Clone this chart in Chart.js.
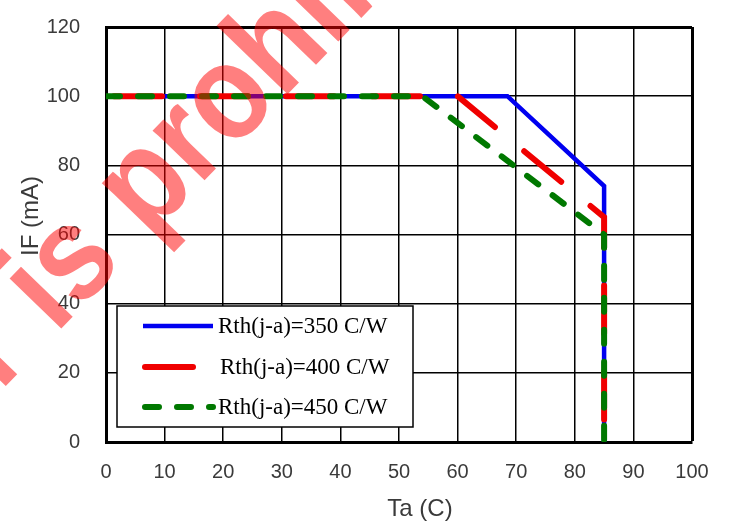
<!DOCTYPE html>
<html>
<head>
<meta charset="utf-8">
<script src="https://cdn.jsdelivr.net/npm/chart.js@4.4.1/dist/chart.umd.min.js"></script>
<style>
  body { margin: 0; background: #fff; }
  #wrap { width: 730px; height: 526px; }
</style>
</head>
<body>
<div id="wrap"><canvas id="deratingChart" width="730" height="526"></canvas></div>
<script>
// Derating curves, IF vs ambient temperature
const seriesLabels = ['Rth(j-a)=350 C/W', 'Rth(j-a)=400 C/W', 'Rth(j-a)=450 C/W'];
const blueTa = [0, 68.5, 85, 85];
const blueIF = [100, 100, 74, 0];
const redTa = [0, 60, 85, 85];
const redIF = [100, 100, 65, 0];
const greenTa = [0, 54, 85, 85];
const greenIF = [100, 100, 60, 0];

const xTitle = 'Ta (C)';
const yTitle = 'IF (mA)';
const watermark = 'r is prohibited';

const tickFont = { family: '"Liberation Sans", Arial, sans-serif', size: 20 };
const tickColor = '#3a3a3a';

function toPoints(xs, ys) {
    return xs.map((x, i) => ({ x: x, y: ys[i] }));
}

// legend box drawn inside the plot, bottom left
const boxLegend = {
    id: 'boxLegend',
    afterDatasetsDraw(chart) {
        const ctx = chart.ctx;
        ctx.save();
        ctx.fillStyle = '#fff';
        ctx.fillRect(117, 306, 296, 121);
        ctx.strokeStyle = '#000';
        ctx.lineWidth = 1.5;
        ctx.strokeRect(117, 306, 296, 121);
        const rows = [326, 367, 407];
        chart.data.datasets.forEach((ds, i) => {
            ctx.beginPath();
            ctx.strokeStyle = ds.borderColor;
            ctx.lineWidth = ds.borderWidth;
            ctx.lineCap = i === 0 ? 'butt' : 'round';
            ctx.setLineDash(ds.borderDash || []);
            ctx.lineDashOffset = 0;
            ctx.moveTo(i === 0 ? 143 : 145, rows[i]);
            ctx.lineTo(i === 1 ? 199 : 213, rows[i]);
            ctx.stroke();
            ctx.setLineDash([]);
            ctx.fillStyle = '#000';
            ctx.font = '23px "Liberation Serif", "Times New Roman", serif';
            ctx.textBaseline = 'middle';
            ctx.textAlign = 'left';
            ctx.fillText(ds.label, i === 1 ? 220 : 218, rows[i] + 1);
        });
        ctx.restore();
    },
    afterDraw(chart) {
        const ctx = chart.ctx;
        ctx.save();
        // axis titles
        ctx.fillStyle = tickColor;
        ctx.font = '24px "Liberation Sans", Arial, sans-serif';
        ctx.textAlign = 'center';
        ctx.textBaseline = 'middle';
        ctx.fillText(xTitle, 420, 509);
        ctx.translate(31, 216);
        ctx.rotate(-Math.PI / 2);
        ctx.fillText(yTitle, 0, 0);
        ctx.restore();

        // red watermark across the top left
        ctx.save();
        ctx.translate(0, 392);
        ctx.rotate(-46 * Math.PI / 180);
        ctx.scale(0.88, 1);
        ctx.font = 'bold 136px "Liberation Sans", Arial, sans-serif';
        ctx.fillStyle = 'rgba(255, 0, 0, 0.5)';
        ctx.textAlign = 'left';
        ctx.textBaseline = 'alphabetic';
        ctx.fillText(watermark, 0, 0);
        ctx.restore();
    }
};

const ctx = document.getElementById('deratingChart').getContext('2d');
const deratingChart = new Chart(ctx, {
    type: 'line',
    data: {
        datasets: [
            {
                label: seriesLabels[0],
                data: toPoints(blueTa, blueIF),
                borderColor: '#0000f0',
                borderWidth: 4.5,
                pointRadius: 0,
                tension: 0,
                fill: false,
                order: 3
            },
            {
                label: seriesLabels[1],
                data: toPoints(redTa, redIF),
                borderColor: '#f00000',
                borderWidth: 6,
                borderDash: [48, 38],
                borderDashOffset: 78,
                borderCapStyle: 'round',
                pointRadius: 0,
                tension: 0,
                fill: false,
                order: 2
            },
            {
                label: seriesLabels[2],
                data: toPoints(greenTa, greenIF),
                borderColor: '#007800',
                borderWidth: 6,
                borderDash: [14, 18],
                borderCapStyle: 'round',
                pointRadius: 0,
                tension: 0,
                fill: false,
                order: 1
            }
        ]
    },
    options: {
        responsive: false,
        animation: false,
        layout: { padding: { left: 0, right: 38, top: 27, bottom: 0 } },
        scales: {
            x: {
                type: 'linear',
                min: 0,
                max: 100,
                ticks: { stepSize: 10, color: tickColor, font: tickFont, padding: 18, maxRotation: 0 },
                grid: {
                    color: '#000',
                    lineWidth: c => (c.tick && c.tick.value === 100 ? 3 : 1.5),
                    drawTicks: false
                },
                border: { color: '#000', width: 3 },
                afterFit: s => { s.height = 84; }
            },
            y: {
                min: 0,
                max: 120,
                // invisible tick marks push the labels away from the axis
                ticks: { stepSize: 20, color: tickColor, font: tickFont, padding: 0 },
                grid: {
                    color: '#000',
                    lineWidth: c => (c.tick && c.tick.value === 120 ? 3 : 1.5),
                    drawTicks: true,
                    tickLength: 26,
                    tickColor: 'rgba(0, 0, 0, 0)'
                },
                border: { color: '#000', width: 3 },
                afterFit: s => { s.width = 106; }
            }
        },
        plugins: {
            legend: { display: false },
            tooltip: { enabled: false }
        }
    },
    plugins: [boxLegend]
});
</script>
</body>
</html>
